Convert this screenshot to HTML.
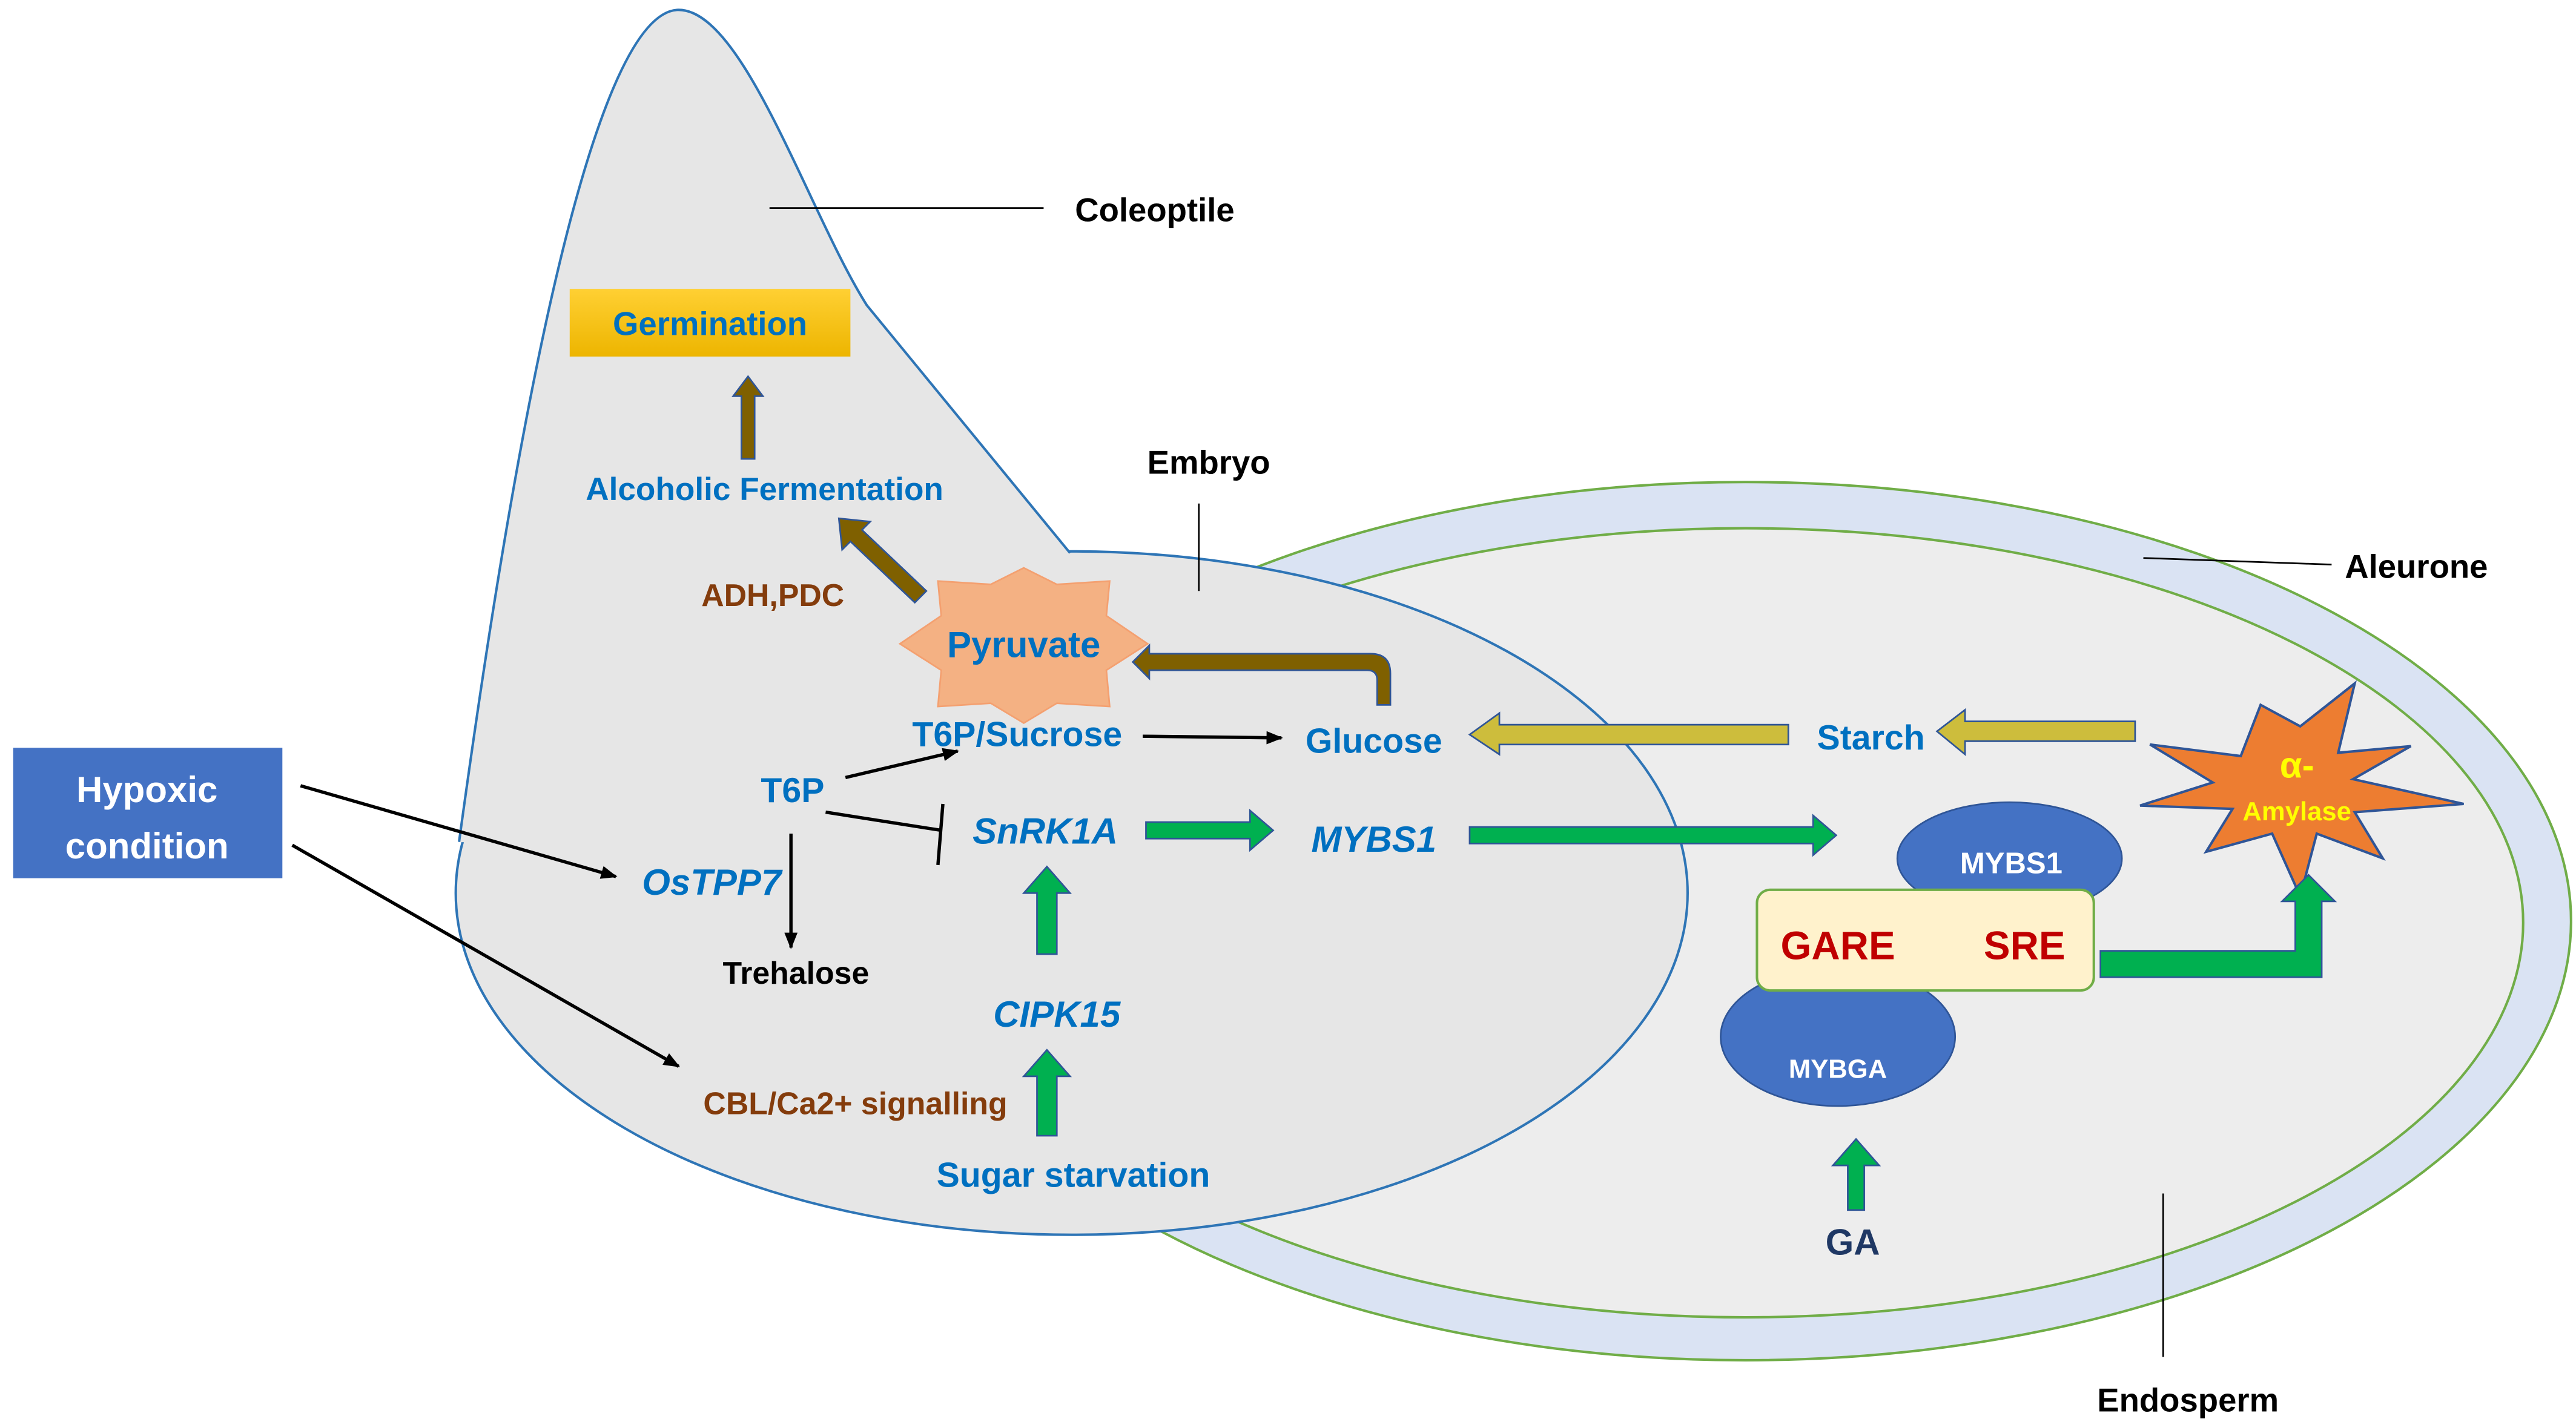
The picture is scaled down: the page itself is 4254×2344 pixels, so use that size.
<!DOCTYPE html>
<html><head><meta charset="utf-8"><style>html,body{margin:0;padding:0;background:#fff}svg{display:block}text{font-family:"Liberation Sans",Arial,sans-serif;font-weight:bold}</style></head>
<body>
<svg width="4254" height="2344" viewBox="0 0 1560 859.6" preserveAspectRatio="none" xmlns="http://www.w3.org/2000/svg">
<defs>
<linearGradient id="g" x1="0" y1="0" x2="0" y2="1"><stop offset="0" stop-color="#ffd033"/><stop offset="1" stop-color="#edb500"/></linearGradient>
<marker id="ah" markerWidth="10" markerHeight="8" refX="9" refY="4" orient="auto" markerUnits="userSpaceOnUse"><path d="M0,0 L10,4 L0,8 Z" fill="#000"/></marker>
</defs>
<ellipse cx="1057" cy="558" rx="500" ry="266" fill="#dae3f3" stroke="#70ad47" stroke-width="1.5"/>
<ellipse cx="1057" cy="559" rx="471" ry="239" fill="#ededed" stroke="#70ad47" stroke-width="1.5"/>
<ellipse cx="649" cy="541" rx="373" ry="207" fill="#e6e6e6" stroke="#2e75b6" stroke-width="1.5"/>
<path d="M278,510 C300,350 350,10 410,6 C450,4 490,130 525,185 L648,335 L620,420 L400,520 Z" fill="#e6e6e6"/>
<path d="M278,510 C300,350 350,10 410,6 C450,4 490,130 525,185 L648,335" fill="none" stroke="#2e75b6" stroke-width="1.5"/>
<line x1="466" y1="126" x2="632" y2="126" stroke="#000" stroke-width="1"/>
<text x="651" y="134" font-size="20" fill="#000">Coleoptile</text>
<line x1="726" y1="305" x2="726" y2="358" stroke="#000" stroke-width="1"/>
<text x="732" y="287" font-size="20" fill="#000" text-anchor="middle">Embryo</text>
<line x1="1298" y1="338" x2="1412" y2="342" stroke="#000" stroke-width="1"/>
<text x="1420" y="350" font-size="20" fill="#000">Aleurone</text>
<line x1="1310" y1="723" x2="1310" y2="822" stroke="#000" stroke-width="1"/>
<text x="1325" y="855" font-size="20" fill="#000" text-anchor="middle">Endosperm</text>
<rect x="345" y="175" width="170" height="41" fill="url(#g)"/>
<text x="430" y="203" font-size="20" fill="#0070c0" text-anchor="middle">Germination</text>
<path d="M449,278 L449,240 L444,240 L453,228 L462,240 L457,240 L457,278 Z" fill="#7f6000" stroke="#2f5597" stroke-width="1"/>
<text x="463" y="303" font-size="19.5" fill="#0070c0" text-anchor="middle">Alcoholic Fermentation</text>
<text x="468" y="367" font-size="19" fill="#843c0c" text-anchor="middle">ADH,PDC</text>
<path d="M561,358 L522,321 L527,316 L508,314 L510,333 L515,328 L554,365 Z" fill="#7f6000" stroke="#2f5597" stroke-width="1"/>
<path d="M620,344 L640,354 L672,352 L670,373 L695,390 L670,406 L672,428 L640,426 L620,438 L600,426 L568,428 L570,406 L545,390 L570,373 L568,352 L600,354 Z" fill="#f4b183" stroke="#f4a070" stroke-width="1"/>
<text x="620" y="398" font-size="22" fill="#0070c0" text-anchor="middle">Pyruvate</text>
<path d="M842,427 L834,427 L834,412 Q834,406 828,406 L696,406 L696,411 L686,401 L696,391 L696,396 L830,396 Q842,396 842,408 Z" fill="#7f6000" stroke="#2f5597" stroke-width="1"/>
<text x="616" y="452" font-size="21" fill="#0070c0" text-anchor="middle">T6P/Sucrose</text>
<line x1="692" y1="446" x2="776" y2="447" stroke="#000" stroke-width="2" marker-end="url(#ah)"/>
<text x="832" y="456" font-size="21" fill="#0070c0" text-anchor="middle">Glucose</text>
<path d="M1083,439 L1083,451 L908,451 L908,457 L890,445 L908,432 L908,439 Z" fill="#cdbd3c" stroke="#2f5597" stroke-width="1"/>
<text x="1133" y="454" font-size="21" fill="#0070c0" text-anchor="middle">Starch</text>
<path d="M1293,437 L1293,449 L1190,449 L1190,457 L1173,443 L1190,430 L1190,437 Z" fill="#cdbd3c" stroke="#2f5597" stroke-width="1"/>
<path d="M1393,440 L1426,414 L1416,456 L1460,452 L1425,472 L1492,487 L1426,492 L1443,520 L1403,505 L1393,543 L1376,505 L1336,516 L1352,490 L1296,488 L1340,474 L1302,451 L1357,458 L1369,427 Z" fill="#ed7d31" stroke="#2f5597" stroke-width="1.5"/>
<text x="1391" y="471" font-size="22" fill="#ffff00" text-anchor="middle">α-</text>
<text x="1391" y="497" font-size="16" fill="#ffff00" text-anchor="middle">Amylase</text>
<text x="480" y="486" font-size="21" fill="#0070c0" text-anchor="middle">T6P</text>
<line x1="512" y1="471" x2="580" y2="455" stroke="#000" stroke-width="2" marker-end="url(#ah)"/>
<line x1="500" y1="492" x2="570" y2="503" stroke="#000" stroke-width="2"/>
<line x1="571" y1="487" x2="568" y2="524" stroke="#000" stroke-width="2"/>
<line x1="479" y1="505" x2="479" y2="574" stroke="#000" stroke-width="2" marker-end="url(#ah)"/>
<text x="482" y="596" font-size="19" fill="#000" text-anchor="middle">Trehalose</text>
<text x="633" y="511" font-size="22" font-style="italic" fill="#0070c0" text-anchor="middle">SnRK1A</text>
<path d="M694,498 L757,498 L757,491 L771,503 L757,515 L757,508 L694,508 Z" fill="#00b050" stroke="#2f5597" stroke-width="1"/>
<text x="832" y="516" font-size="22" font-style="italic" fill="#0070c0" text-anchor="middle">MYBS1</text>
<path d="M890,501 L1098,501 L1098,494 L1112,506 L1098,518 L1098,511 L890,511 Z" fill="#00b050" stroke="#2f5597" stroke-width="1"/>
<ellipse cx="1217" cy="520" rx="68" ry="34" fill="#4472c4" stroke="#2f5597" stroke-width="1"/>
<text x="1218" y="529" font-size="18" fill="#fff" text-anchor="middle">MYBS1</text>
<ellipse cx="1113" cy="628" rx="71" ry="42" fill="#4472c4" stroke="#2f5597" stroke-width="1"/>
<text x="1113" y="653" font-size="16" fill="#fff" text-anchor="middle">MYBGA</text>
<rect x="1064" y="539" width="204" height="61" rx="8" fill="#fff2cc" stroke="#70ad47" stroke-width="1.5"/>
<text x="1113" y="581" font-size="24" fill="#c00000" text-anchor="middle">GARE</text>
<text x="1226" y="581" font-size="24" fill="#c00000" text-anchor="middle">SRE</text>
<path d="M1272,576 L1390,576 L1390,546 L1382,546 L1398,530 L1414,546 L1406,546 L1406,592 L1272,592 Z" fill="#00b050" stroke="#2f5597" stroke-width="1"/>
<path d="M1119,733 L1119,706 L1110,706 L1124,690 L1138,706 L1129,706 L1129,733 Z" fill="#00b050" stroke="#2f5597" stroke-width="1"/>
<text x="1122" y="760" font-size="22" fill="#1f3864" text-anchor="middle">GA</text>
<rect x="8" y="453" width="163" height="79" fill="#4472c4"/>
<text x="89" y="486" font-size="22" fill="#fff" text-anchor="middle">Hypoxic</text>
<text x="89" y="520" font-size="22" fill="#fff" text-anchor="middle">condition</text>
<line x1="182" y1="476" x2="373" y2="531" stroke="#000" stroke-width="2" marker-end="url(#ah)"/>
<line x1="177" y1="512" x2="411" y2="646" stroke="#000" stroke-width="2" marker-end="url(#ah)"/>
<text x="431" y="542" font-size="22" font-style="italic" fill="#0070c0" text-anchor="middle">OsTPP7</text>
<path d="M628,578 L628,541 L620,541 L634,525 L648,541 L640,541 L640,578 Z" fill="#00b050" stroke="#2f5597" stroke-width="1"/>
<text x="640" y="622" font-size="22" font-style="italic" fill="#0070c0" text-anchor="middle">CIPK15</text>
<path d="M628,688 L628,652 L620,652 L634,636 L648,652 L640,652 L640,688 Z" fill="#00b050" stroke="#2f5597" stroke-width="1"/>
<text x="518" y="675" font-size="19" fill="#843c0c" text-anchor="middle">CBL/Ca2+ signalling</text>
<text x="650" y="719" font-size="21" fill="#0070c0" text-anchor="middle">Sugar starvation</text>
</svg>
</body></html>
